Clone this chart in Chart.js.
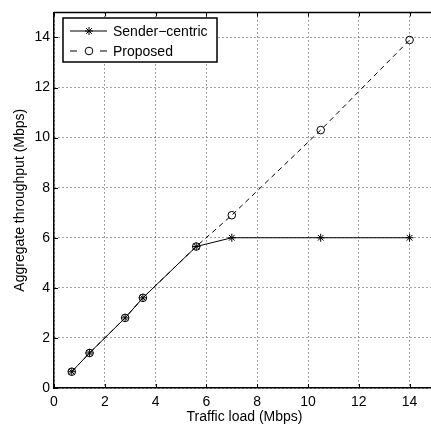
<!DOCTYPE html>
<html>
<head>
<meta charset="utf-8">
<script src="https://cdn.jsdelivr.net/npm/chart.js@4"></script>
<style>
  html, body { margin: 0; padding: 0; background: #fff; }
  #wrap { width: 431px; height: 426px; overflow: hidden; }
</style>
</head>
<body>
<div id="wrap"><canvas id="c" width="440" height="426"></canvas></div>
<script>
// data
const loads = [0.7, 1.4, 2.8, 3.5, 5.6, 7, 10.5, 14];
const senderCentric = [0.65, 1.4, 2.8, 3.6, 5.65, 6.0, 6.0, 6.0];
const proposed = [0.65, 1.4, 2.8, 3.6, 5.65, 6.9, 10.3, 13.9];
const seriesNames = ['Sender\u2212centric', 'Proposed'];
const xTicks = [0, 2, 4, 6, 8, 10, 12, 14];
const yTicks = [0, 2, 4, 6, 8, 10, 12, 14];

const FONT = 'Liberation Sans, Arial, Helvetica, sans-serif';

function points(ys) {
  return loads.map((x, i) => ({ x: x, y: ys[i] }));
}

// box on top + inward ticks, MATLAB style
const frame = {
  id: 'frame',
  afterDatasetsDraw(chart) {
    const { ctx, chartArea: a, scales } = chart;
    ctx.save();
    ctx.strokeStyle = '#000';
    ctx.lineWidth = 1;
    ctx.beginPath();
    xTicks.forEach(t => {
      const px = Math.round(scales.x.getPixelForValue(t)) + 0.5;
      ctx.moveTo(px, a.bottom); ctx.lineTo(px, a.bottom - 4);
      ctx.moveTo(px, a.top); ctx.lineTo(px, a.top + 4);
    });
    yTicks.forEach(t => {
      const py = Math.round(scales.y.getPixelForValue(t)) + 0.5;
      ctx.moveTo(a.left, py); ctx.lineTo(a.left + 4, py);
    });
    ctx.stroke();
    ctx.lineWidth = 1.5;
    ctx.beginPath();
    ctx.moveTo(a.left, a.top);
    ctx.lineTo(a.right, a.top);
    ctx.stroke();
    ctx.restore();
  }
};

// legend box in the upper left corner
const boxLegend = {
  id: 'boxLegend',
  afterDraw(chart) {
    const ctx = chart.ctx;
    const x0 = 63, y0 = 18, w = 154, h = 44;
    ctx.save();
    ctx.fillStyle = '#fff';
    ctx.fillRect(x0, y0, w, h);
    ctx.strokeStyle = '#000';
    ctx.lineWidth = 1.5;
    ctx.strokeRect(x0, y0, w, h);
    chart.data.datasets.forEach((ds, i) => {
      const cy = y0 + 13 + i * 20;
      ctx.strokeStyle = '#000';
      ctx.lineWidth = 1;
      // dashed sample: one dash either side of the marker
      ctx.setLineDash(ds.borderDash ? [7, 23] : []);
      ctx.beginPath();
      ctx.moveTo(x0 + 7, cy);
      ctx.lineTo(x0 + 44, cy);
      ctx.stroke();
      ctx.setLineDash([]);
      ctx.fillStyle = 'rgba(255,255,255,0)';
      Chart.helpers.drawPoint(ctx, {
        pointStyle: ds.pointStyle,
        radius: ds.pointRadius,
        borderWidth: 1
      }, x0 + 26, cy);
      ctx.fillStyle = '#000';
      ctx.font = '14px ' + FONT;
      ctx.textBaseline = 'middle';
      ctx.fillText(ds.label, x0 + 50, cy + 1);
    });
    ctx.restore();
  }
};

new Chart(document.getElementById('c'), {
  type: 'line',
  data: {
    datasets: [
      {
        label: seriesNames[0],
        data: points(senderCentric),
        borderColor: '#000',
        borderWidth: 1,
        pointStyle: 'star',
        pointRadius: 4,
        pointBorderColor: '#000',
        pointBorderWidth: 1,
        tension: 0
      },
      {
        label: seriesNames[1],
        data: points(proposed),
        borderColor: '#000',
        borderWidth: 1,
        borderDash: [5, 4],
        pointStyle: 'circle',
        pointRadius: 3.8,
        pointBorderColor: '#000',
        pointBackgroundColor: 'rgba(255,255,255,0)',
        pointBorderWidth: 1,
        tension: 0
      }
    ]
  },
  options: {
    responsive: false,
    animation: false,
    devicePixelRatio: 1,
    layout: { padding: { top: 7, right: 5, left: 0, bottom: 0 } },
    plugins: {
      legend: { display: false },
      tooltip: { enabled: false }
    },
    scales: {
      x: {
        type: 'linear',
        min: 0,
        max: 15,
        afterBuildTicks: s => { s.ticks = xTicks.map(v => ({ value: v })); },
        afterFit: s => { s.height = 38; },
        ticks: { color: '#000', font: { family: FONT, size: 14 }, padding: 6, maxRotation: 0 },
        grid: { color: '#444', lineWidth: 1, drawTicks: false },
        border: { display: true, color: '#000', width: 1.5, dash: [1, 3] },
        title: { display: true, text: 'Traffic load (Mbps)', color: '#000', font: { family: FONT, size: 14 }, padding: { top: 0, bottom: 0 } }
      },
      y: {
        type: 'linear',
        min: 0,
        max: 15,
        afterBuildTicks: s => { s.ticks = yTicks.map(v => ({ value: v })); },
        afterFit: s => { s.width = 54; },
        ticks: { color: '#000', font: { family: FONT, size: 14 }, padding: 4 },
        grid: { color: '#444', lineWidth: 1, drawTicks: false },
        border: { display: true, color: '#000', width: 1.5, dash: [1, 3] },
        title: { display: true, text: 'Aggregate throughput (Mbps)', color: '#000', font: { family: FONT, size: 14 }, padding: { top: 12, bottom: 0 } }
      }
    }
  },
  plugins: [frame, boxLegend]
});
</script>
</body>
</html>
